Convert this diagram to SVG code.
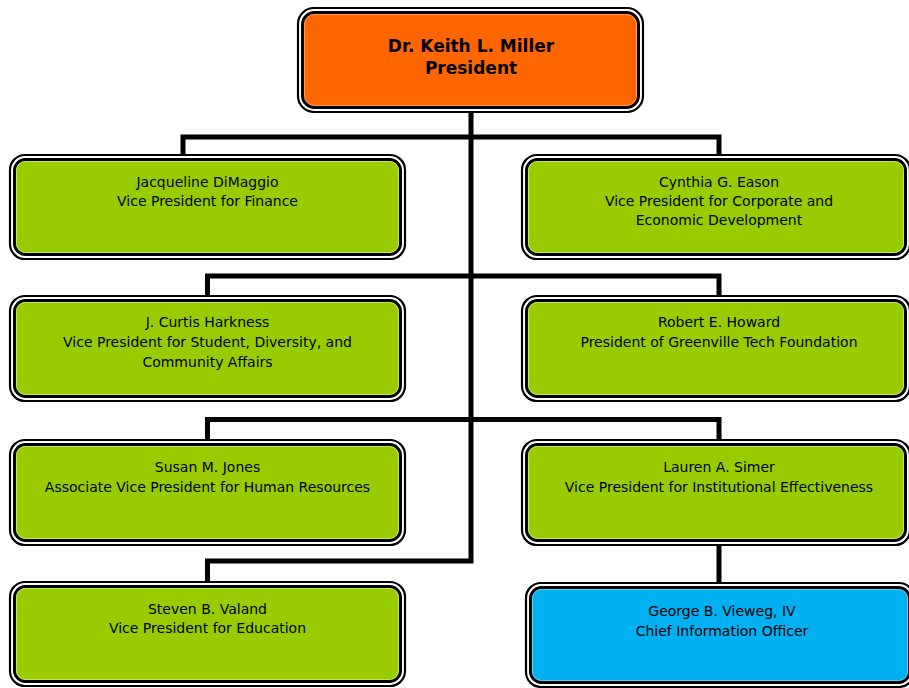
<svg xmlns="http://www.w3.org/2000/svg" width="909" height="688" viewBox="0 0 909 688">
<style>
.outer{fill:#fff;stroke:#000;stroke-width:2.2}
.inner{stroke:#000;stroke-width:3}
.g{fill:#99CC00}
.o{fill:#FF6600}
.b{fill:#00B0F0}
.hl{fill:none;stroke-width:1}
.hg{stroke:#C4E65A}
.ho{stroke:#FF9A55}
.hb{stroke:#66CFF6}
.conn{fill:none;stroke:#000;stroke-width:5;stroke-linejoin:miter}
text{font-family:"DejaVu Sans","Liberation Sans",sans-serif;font-size:14px;fill:#000;text-anchor:middle}
.t{font-weight:bold;font-size:17px}
</style>
<rect width="909" height="688" fill="#fff"/>
<g id="connectors">
<path class="conn" d="M471 112 V561 H207.5 V582"/>
<path class="conn" d="M183 155 V137 H719 V155"/>
<path class="conn" d="M207.5 296 V276 H719 V296"/>
<path class="conn" d="M207.5 440 V419.5 H719 V440"/>
<path class="conn" d="M719 545 V582"/>
</g>
<g id="president">
<rect class="outer" x="298" y="8" width="345" height="104" rx="16"/>
<rect class="inner o" x="302.5" y="12.5" width="336" height="95" rx="12"/>
<rect class="hl ho" x="304.5" y="14.5" width="332" height="91" rx="10"/>
<text class="t" x="471" y="52">Dr. Keith L. Miller</text>
<text class="t" x="471" y="74">President</text>
</g>
<g id="dimaggio">
<rect class="outer" x="10" y="155" width="395" height="104" rx="15"/>
<rect class="inner g" x="14.5" y="159.5" width="386" height="95" rx="11"/>
<rect class="hl hg" x="16.5" y="161.5" width="382" height="91" rx="9"/>
<text x="207.5" y="187">Jacqueline DiMaggio</text>
<text x="207.5" y="206">Vice President for Finance</text>
</g>
<g id="eason">
<rect class="outer" x="522" y="155" width="388" height="104" rx="15"/>
<rect class="inner g" x="526.5" y="159.5" width="379" height="95" rx="11"/>
<rect class="hl hg" x="528.5" y="161.5" width="375" height="91" rx="9"/>
<text x="719" y="187">Cynthia G. Eason</text>
<text x="719" y="206">Vice President for Corporate and</text>
<text x="719" y="225">Economic Development</text>
</g>
<g id="harkness">
<rect class="outer" x="10" y="296" width="395" height="105" rx="15"/>
<rect class="inner g" x="14.5" y="300.5" width="386" height="96" rx="11"/>
<rect class="hl hg" x="16.5" y="302.5" width="382" height="92" rx="9"/>
<text x="207.5" y="327">J. Curtis Harkness</text>
<text x="207.5" y="347">Vice President for Student, Diversity, and</text>
<text x="207.5" y="366.5">Community Affairs</text>
</g>
<g id="howard">
<rect class="outer" x="522" y="296" width="388" height="105" rx="15"/>
<rect class="inner g" x="526.5" y="300.5" width="379" height="96" rx="11"/>
<rect class="hl hg" x="528.5" y="302.5" width="375" height="92" rx="9"/>
<text x="719" y="327">Robert E. Howard</text>
<text x="719" y="347">President of Greenville Tech Foundation</text>
</g>
<g id="jones">
<rect class="outer" x="10" y="440" width="395" height="105" rx="15"/>
<rect class="inner g" x="14.5" y="444.5" width="386" height="96" rx="11"/>
<rect class="hl hg" x="16.5" y="446.5" width="382" height="92" rx="9"/>
<text x="207.5" y="472">Susan M. Jones</text>
<text x="207.5" y="492">Associate Vice President for Human Resources</text>
</g>
<g id="simer">
<rect class="outer" x="522" y="440" width="388" height="105" rx="15"/>
<rect class="inner g" x="526.5" y="444.5" width="379" height="96" rx="11"/>
<rect class="hl hg" x="528.5" y="446.5" width="375" height="92" rx="9"/>
<text x="719" y="472">Lauren A. Simer</text>
<text x="719" y="492">Vice President for Institutional Effectiveness</text>
</g>
<g id="valand">
<rect class="outer" x="10" y="582" width="395" height="104" rx="15"/>
<rect class="inner g" x="14.5" y="586.5" width="386" height="95" rx="11"/>
<rect class="hl hg" x="16.5" y="588.5" width="382" height="91" rx="9"/>
<text x="207.5" y="613.5">Steven B. Valand</text>
<text x="207.5" y="633">Vice President for Education</text>
</g>
<g id="vieweg">
<rect class="outer" x="526" y="583" width="388" height="104" rx="15"/>
<rect class="inner b" x="530.5" y="587.5" width="379" height="95" rx="11"/>
<rect class="hl hb" x="532.5" y="589.5" width="375" height="91" rx="9"/>
<text x="722" y="615.5">George B. Vieweg, IV</text>
<text x="722" y="635.5">Chief Information Officer</text>
</g>
</svg>
